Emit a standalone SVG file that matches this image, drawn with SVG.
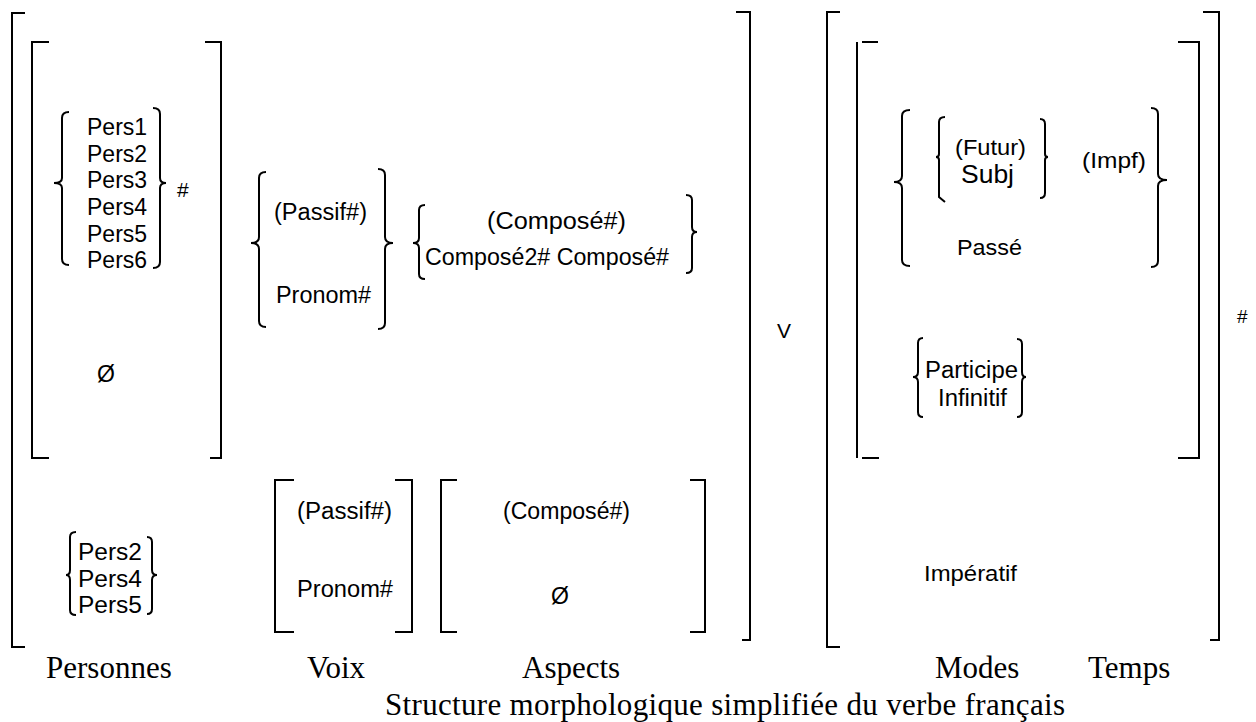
<svg xmlns="http://www.w3.org/2000/svg" width="1256" height="722" viewBox="0 0 1256 722">
<style>
.b{fill:none;stroke:#000;stroke-width:2}
.t{font-family:"Liberation Sans",Arial,sans-serif;font-size:23px;fill:#000}
.l{font-family:"Liberation Serif","Times New Roman",serif;font-size:31px;fill:#000}
</style>
<rect width="1256" height="722" fill="#fff"/>
<g id="outer-brackets">
<path class="b" d="M25 13H12V647H25"/>
<path class="b" d="M736 12H750V640H742"/>
<path class="b" d="M840 12H827V647H840"/>
<path class="b" d="M1203 12H1219V640H1210"/>
</g>
<g id="personnes">
<path class="b" d="M49 42H32V458H49"/>
<path class="b" d="M205 42H221V458H210"/>
<path class="b" d="M69 112Q62 112 62 118V178Q62 183 54 183Q62 183 62 188V259Q62 265 69 265"/>
<path class="b" d="M153 108Q160 108 160 114V178Q160 183 166 183Q160 183 160 188V262Q160 268 153 268"/>
<text class="t" x="87" y="135">Pers1</text>
<text class="t" x="87" y="162">Pers2</text>
<text class="t" x="87" y="188">Pers3</text>
<text class="t" x="87" y="215">Pers4</text>
<text class="t" x="87" y="242">Pers5</text>
<text class="t" x="87" y="268">Pers6</text>
<text class="t" x="177" y="197" style="font-size:21px">#</text>
<text class="t" x="97" y="382">Ø</text>
</g>
<g id="personnes-imperatif">
<path class="b" d="M76 532Q70 532 70 537V570Q70 575 66 575Q70 575 70 580V610Q70 615 76 615"/>
<path class="b" d="M147 537Q152 537 152 542V570Q152 575 157 575Q152 575 152 580V609Q152 614 147 614"/>
<text class="t" x="78" y="560" textLength="64" lengthAdjust="spacingAndGlyphs">Pers2</text>
<text class="t" x="78" y="587" textLength="64" lengthAdjust="spacingAndGlyphs">Pers4</text>
<text class="t" x="78" y="613" textLength="64" lengthAdjust="spacingAndGlyphs">Pers5</text>
</g>
<g id="voix">
<path class="b" d="M266 172Q259 172 259 178V237Q259 243 251 243Q259 243 259 249V321Q259 327 266 327"/>
<path class="b" d="M378 169Q385 169 385 175V237Q385 243 393 243Q385 243 385 249V323Q385 329 378 329"/>
<text class="t" x="274" y="220" textLength="93" lengthAdjust="spacingAndGlyphs">(Passif#)</text>
<text class="t" x="276" y="303" textLength="95" lengthAdjust="spacingAndGlyphs">Pronom#</text>
</g>
<g id="voix-imperatif">
<path class="b" d="M294 480H275V632H294"/>
<path class="b" d="M395 480H412V632H395"/>
<text class="t" x="297" y="519" textLength="95" lengthAdjust="spacingAndGlyphs">(Passif#)</text>
<text class="t" x="297" y="597" textLength="96" lengthAdjust="spacingAndGlyphs">Pronom#</text>
</g>
<g id="aspects">
<path class="b" d="M425 205Q419 205 419 210V238Q419 243 413 243Q419 243 419 248V274Q419 279 425 279"/>
<path class="b" d="M686 195Q692 195 692 200V227Q692 232 697 232Q692 232 692 237V268Q692 273 686 273"/>
<text class="t" x="487" y="229" textLength="139" lengthAdjust="spacingAndGlyphs">(Composé#)</text>
<text class="t" x="425" y="265" textLength="244" lengthAdjust="spacingAndGlyphs">Composé2# Composé#</text>
</g>
<g id="aspects-imperatif">
<path class="b" d="M457 480H441V632H457"/>
<path class="b" d="M690 480H705V632H690"/>
<text class="t" x="503" y="519" textLength="127" lengthAdjust="spacingAndGlyphs">(Composé#)</text>
<text class="t" x="551" y="604">Ø</text>
</g>
<g id="verbe">
<text class="t" x="777" y="338" style="font-size:21px">V</text>
</g>
<g id="modes-temps">
<path class="b" d="M857 42V458"/>
<path class="b" d="M862 42H878M862 458H879"/>
<path class="b" d="M1178 42H1199V458H1178"/>
<path class="b" d="M910 110Q902 110 902 116V176Q902 182 894 182Q902 182 902 188V260Q902 266 910 266"/>
<path class="b" d="M1151 108Q1158 108 1158 114V174Q1158 180 1167 180Q1158 180 1158 186V261Q1158 267 1151 267"/>
<path class="b" d="M945 117Q939 117 939 122V154Q939 157 936 157Q939 157 939 160V197L945 202"/>
<path class="b" d="M1040 119Q1045 119 1045 124V154Q1045 157 1048 157Q1045 157 1045 160V193Q1045 198 1040 198"/>
<text class="t" x="955" y="155" style="font-size:22px" textLength="71" lengthAdjust="spacingAndGlyphs">(Futur)</text>
<text class="t" x="961" y="183" style="font-size:25px" textLength="53" lengthAdjust="spacingAndGlyphs">Subj</text>
<text class="t" x="1082" y="168" style="font-size:22px" textLength="64" lengthAdjust="spacingAndGlyphs">(Impf)</text>
<text class="t" x="957" y="255" style="font-size:22px" textLength="65" lengthAdjust="spacingAndGlyphs">Passé</text>
<path class="b" d="M923 338Q918 338 918 343V372Q918 377 913 377Q918 377 918 382V412Q918 417 923 417"/>
<path class="b" d="M1017 339Q1022 339 1022 344V372Q1022 377 1026 377Q1022 377 1022 382V412Q1022 417 1017 417"/>
<text class="t" x="925" y="378" textLength="93" lengthAdjust="spacingAndGlyphs">Participe</text>
<text class="t" x="938" y="406" textLength="69" lengthAdjust="spacingAndGlyphs">Infinitif</text>
<text class="t" x="924" y="581" style="font-size:22px" textLength="93" lengthAdjust="spacingAndGlyphs">Impératif</text>
<text class="t" x="1237" y="323" style="font-size:19px">#</text>
</g>
<g id="labels">
<text class="l" x="46" y="678">Personnes</text>
<text class="l" x="307" y="678">Voix</text>
<text class="l" x="522" y="678">Aspects</text>
<text class="l" x="935" y="678">Modes</text>
<text class="l" x="1088" y="678">Temps</text>
<text class="l" x="385" y="715" textLength="680" lengthAdjust="spacing">Structure morphologique simplifiée du verbe français</text>
</g>
<g id="connectors"/>
</svg>
